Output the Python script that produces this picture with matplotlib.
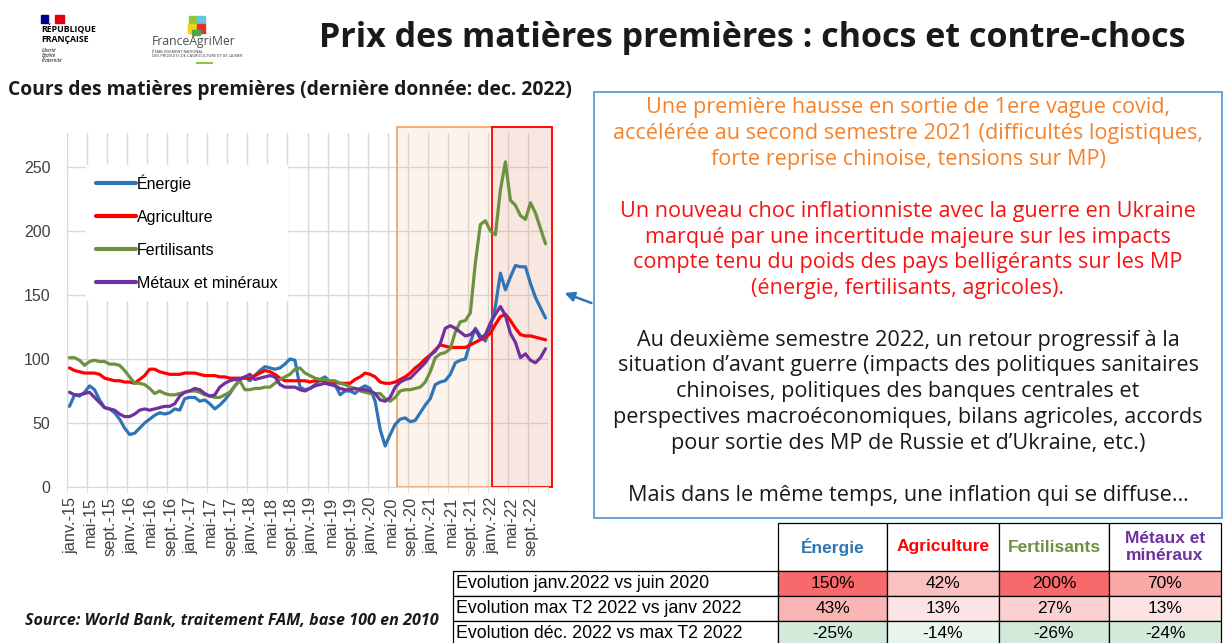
import numpy as np
import matplotlib.pyplot as plt
from matplotlib.patches import Rectangle
from matplotlib.lines import Line2D

W, H = 1225, 643

# monthly indices, base 100 in 2010, janv. 2015 -> dec. 2022
energie = [63, 72, 71, 74, 79, 76, 68, 62, 61, 58, 53, 46,
           41, 42, 46, 50, 53, 56, 58, 57, 58, 61, 60, 69,
           70, 70, 67, 68, 65, 61, 64, 68, 73, 79, 84, 86,
           83, 87, 91, 94, 93, 92, 93, 96, 100, 99, 78, 76,
           77, 80, 84, 86, 82, 80, 72, 75, 75, 73, 77, 79,
           77, 67, 45, 32, 41, 49, 53, 54, 51, 52, 58, 64,
           69, 80, 82, 83, 88, 97, 99, 100, 113, 124, 118, 114,
           126, 141, 167, 154, 164, 173, 172, 172, 159, 148, 140, 132]
agriculture = [93, 91, 90, 89, 89, 89, 88, 85, 84, 83, 83, 82,
               82, 81, 84, 87, 92, 92, 90, 89, 88, 88, 88, 89,
               89, 89, 88, 87, 87, 87, 86, 86, 85, 85, 85, 85,
               85, 87, 89, 91, 90, 88, 85, 83, 83, 83, 83, 83,
               82, 83, 83, 83, 82, 82, 81, 81, 81, 84, 86, 89,
               88, 86, 82, 81, 81, 82, 84, 86, 89, 93, 96, 100,
               103, 107, 111, 110, 109, 109, 109, 109, 111, 113, 115, 117,
               120, 127, 133, 135, 130, 124, 119, 118, 118, 117, 116, 115]
fertilisants = [101, 101, 99, 95, 98, 99, 98, 98, 96, 96, 95, 91,
                86, 81, 81, 80, 77, 73, 75, 73, 72, 72, 73, 74,
                75, 75, 74, 72, 71, 70, 70, 72, 74, 79, 83, 76,
                76, 77, 77, 78, 78, 81, 84, 86, 88, 92, 93, 89,
                87, 85, 84, 84, 83, 83, 81, 80, 78, 77, 75, 74,
                73, 73, 73, 69, 67, 70, 75, 76, 76, 77, 78, 82,
                90, 101, 104, 105, 108, 121, 129, 130, 136, 175, 205, 208,
                200, 197, 232, 254, 224, 220, 212, 209, 222, 214, 202, 190]
metaux = [74, 72, 72, 73, 74, 70, 66, 62, 61, 60, 57, 55,
          55, 57, 60, 61, 60, 61, 62, 63, 63, 65, 71, 74,
          75, 77, 76, 73, 71, 72, 78, 81, 83, 84, 84, 86,
          88, 84, 85, 86, 87, 86, 80, 78, 78, 78, 76, 75,
          77, 79, 80, 81, 80, 79, 77, 76, 76, 77, 76, 76,
          75, 73, 68, 67, 70, 78, 82, 84, 85, 89, 93, 97,
          103, 106, 112, 124, 126, 124, 121, 118, 119, 123, 116, 119,
          128, 135, 141, 134, 120, 113, 101, 104, 99, 97, 101, 108]

series_names = ['Énergie', 'Agriculture', 'Fertilisants', 'Métaux et minéraux']
series_colors = ['#2E75B6', '#FF0000', '#6E9140', '#7030A0']

tick_labels = ['janv.-15', 'mai-15', 'sept.-15', 'janv.-16', 'mai-16', 'sept.-16',
               'janv.-17', 'mai-17', 'sept.-17', 'janv.-18', 'mai-18', 'sept.-18',
               'janv.-19', 'mai-19', 'sept.-19', 'janv.-20', 'mai-20', 'sept.-20',
               'janv.-21', 'mai-21', 'sept.-21', 'janv.-22', 'mai-22', 'sept.-22']

table_rows = ['Evolution janv.2022 vs juin 2020',
              'Evolution max T2 2022 vs janv 2022',
              'Evolution déc. 2022 vs max T2 2022']
table_cols = ['Énergie', 'Agriculture', 'Fertilisants', 'Métaux et\nminéraux']
table_vals = [['150%', '42%', '200%', '70%'],
              ['43%', '13%', '27%', '13%'],
              ['-25%', '-14%', '-26%', '-24%']]
table_fill = [['#F8696B', '#FAC1C1', '#F8696B', '#F9A8A8'],
              ['#F9B4B4', '#FDE4E4', '#FBD0D0', '#FDE4E4'],
              ['#D2EAD9', '#E8F4EC', '#D0E9D8', '#D4EBDB']]

box_lines = [
    ('Une première hausse en sortie de 1ere vague covid,', '#F5822A'),
    ('accélérée au second semestre 2021 (difficultés logistiques,', '#F5822A'),
    ('forte reprise chinoise, tensions sur MP)', '#F5822A'),
    (None, None),
    ('Un nouveau choc inflationniste avec la guerre en Ukraine', '#F51414'),
    ('marqué par une incertitude majeure sur les impacts', '#F51414'),
    ('compte tenu du poids des pays belligérants sur les MP', '#F51414'),
    ('(énergie, fertilisants, agricoles).', '#F51414'),
    (None, None),
    ('Au deuxième semestre 2022, un retour progressif à la', '#1A1A1A'),
    ('situation d\u2019avant guerre (impacts des politiques sanitaires', '#1A1A1A'),
    ('chinoises, politiques des banques centrales et', '#1A1A1A'),
    ('perspectives macroéconomiques, bilans agricoles, accords', '#1A1A1A'),
    ('pour sortie des MP de Russie et d\u2019Ukraine, etc.)', '#1A1A1A'),
    (None, None),
    ('Mais dans le même temps, une inflation qui se diffuse\u2026', '#1A1A1A'),
]


def fx(x):
    return x / W


def fy(y):
    return 1 - y / H


SLIDE = 'Open Sans'
ARIAL = 'Liberation Sans'

fig = plt.figure(figsize=(W / 100, H / 100), dpi=100)

# ---- chart ----
ax = fig.add_axes([fx(67), fy(487), 481 / W, 354 / H])
x = np.arange(96) + 0.5
for vals, name, col in zip([energie, agriculture, fertilisants, metaux], series_names, series_colors):
    ax.plot(x, vals, color=col, lw=2.3, label=name, zorder=3, solid_capstyle='round')

ax.set_xlim(0, 96)
ax.set_ylim(0, 276.5)
ax.set_axisbelow(True)
ax.set_yticks([0, 50, 100, 150, 200, 250])
ax.set_xticks(np.arange(0, 96, 4) + 0.7)
ax.set_xticklabels(tick_labels, rotation=90, fontsize=11.8, family=ARIAL, color='#404040')
ax.set_xticks(np.arange(0, 97, 4), minor=True)
ax.tick_params(axis='x', which='major', length=0, pad=7)
ax.tick_params(axis='x', which='minor', length=4, color='#D9D9D9')
ax.tick_params(axis='y', length=0, pad=12, labelsize=11.5, labelcolor='#404040')
for lab in ax.get_yticklabels():
    lab.set_family(ARIAL)
ax.grid(which='minor', axis='x', color='#D9D9D9', lw=1)
ax.grid(which='major', axis='y', color='#D9D9D9', lw=1)
for s in ['top', 'right']:
    ax.spines[s].set_visible(False)
ax.spines['left'].set_color('#D9D9D9')
ax.spines['bottom'].set_color('#D9D9D9')

# highlighted periods
ax.add_patch(Rectangle((65.8, 0), 96.8 - 65.8, 281, clip_on=False, zorder=1,
                       fc=(0.957, 0.694, 0.514, 0.14), ec='#F0A060', lw=1.2))
ax.add_patch(Rectangle((84.9, 0), 96.8 - 84.9, 281, clip_on=False, zorder=1.1,
                       fc=(0.75, 0.35, 0.3, 0.08), ec='#FF0000', lw=1.3))

leg = ax.legend(loc='upper left', bbox_to_anchor=(fx(86), fy(165)), bbox_transform=fig.transFigure,
                frameon=True, fancybox=False, edgecolor='white', facecolor='white', framealpha=1,
                prop={'family': ARIAL, 'size': 11.5}, handlelength=2.5, handletextpad=0.1,
                labelspacing=1.12, borderpad=0.6, borderaxespad=0)
for ln in leg.get_lines():
    ln.set_linewidth(3)

# ---- titles ----
fig.text(fx(752), fy(38), 'Prix des matières premières : chocs et contre-chocs', ha='center', va='center',
         fontsize=24.5, fontweight='bold', family=SLIDE, color='#1A1A1A')
fig.text(fx(8), fy(90), 'Cours des matières premières (dernière donnée: dec. 2022)', ha='left', va='center',
         fontsize=13.9, fontweight='bold', family=SLIDE, color='#1A1A1A')
fig.text(fx(25), fy(621), 'Source: World Bank, traitement FAM, base 100 en 2010', ha='left', va='center',
         fontsize=11.6, fontweight='bold', style='italic', family=SLIDE, color='#1A1A1A')

# ---- logos ----
fig.add_artist(Rectangle((fx(41), fy(23)), 7 / W, 8 / H, transform=fig.transFigure, color='#000091'))
fig.add_artist(Rectangle((fx(55), fy(23)), 9 / W, 8 / H, transform=fig.transFigure, color='#E1000F'))
fig.text(fx(41), fy(30), 'RÉPUBLIQUE', fontsize=6.3, fontweight='bold', family=SLIDE, va='center')
fig.text(fx(41), fy(39), 'FRANÇAISE', fontsize=6.3, fontweight='bold', family=SLIDE, va='center')
for yy, t in zip([50, 55.5, 61], ['Liberté', 'Égalité', 'Fraternité']):
    fig.text(fx(42), fy(yy), t, fontsize=3.4, style='italic', family=SLIDE, va='center')

icon = [(189, 16, 8, 8, '#8DC63F'), (197, 16, 8, 8, '#66C6E8'), (188, 24, 9, 9, '#F7D117'),
        (197, 24, 8, 9, '#E4312F'), (192, 30, 8, 5, '#4CA64C')]
for ix, iy, iw, ih, ic in icon:
    fig.add_artist(Rectangle((fx(ix), fy(iy + ih)), iw / W, ih / H, transform=fig.transFigure, color=ic))
fig.text(fx(152), fy(42), 'FranceAgriMer', fontsize=8.8, family=SLIDE, color='#4D4D4D', va='center')
fig.text(fx(152), fy(52), 'ÉTABLISSEMENT NATIONAL', fontsize=2.9, family=SLIDE, color='#333333', va='center')
fig.text(fx(152), fy(56), 'DES PRODUITS DE L\u2019AGRICULTURE ET DE LA MER', fontsize=2.9, family=SLIDE,
         color='#333333', va='center')
fig.add_artist(Line2D([fx(197), fx(212)], [fy(63), fy(63)], transform=fig.transFigure, color='#8DC63F', lw=1.5))

# ---- text box ----
fig.add_artist(Rectangle((fx(594), fy(518)), (1222 - 594) / W, (518 - 92) / H, transform=fig.transFigure,
                         fill=False, ec='#5B9BD5', lw=1.3))
y0, step = 108, 25.8
for i, (t, c) in enumerate(box_lines):
    if t is None:
        continue
    fig.text(fx(908), fy(y0 + i * step), t, ha='center', va='center', fontsize=15.6, family=SLIDE, color=c)
fig.add_artist(plt.Annotation('', xy=(fx(562), fy(292)), xytext=(fx(594), fy(304)),
                              xycoords='figure fraction', textcoords='figure fraction',
                              arrowprops=dict(arrowstyle='-|>', color='#2E75B6', lw=1.8, mutation_scale=14)))

# ---- table ----
col_edges = [778, 887, 999, 1109, 1221]
row_edges = [571, 596, 621, 646]
hdr_top = 523
for j, name in enumerate(table_cols):
    x0, x1 = col_edges[j], col_edges[j + 1]
    fig.add_artist(Rectangle((fx(x0), fy(571)), (x1 - x0) / W, (571 - hdr_top) / H,
                             transform=fig.transFigure, fc='white', ec='black', lw=0.9))
    fig.text(fx((x0 + x1) / 2), fy((hdr_top + 571) / 2), name, ha='center', va='center', fontsize=12.5,
             fontweight='bold', family=ARIAL, color=series_colors[j], linespacing=1.2)
for i, rname in enumerate(table_rows):
    ya, yb = row_edges[i], row_edges[i + 1]
    fig.add_artist(Rectangle((fx(453), fy(yb)), (778 - 453) / W, (yb - ya) / H,
                             transform=fig.transFigure, fc='white', ec='black', lw=0.9))
    fig.text(fx(456), fy((ya + yb) / 2), rname, ha='left', va='center', fontsize=12.8, family=ARIAL,
             color='black')
    for j in range(4):
        x0, x1 = col_edges[j], col_edges[j + 1]
        fig.add_artist(Rectangle((fx(x0), fy(yb)), (x1 - x0) / W, (yb - ya) / H,
                                 transform=fig.transFigure, fc=table_fill[i][j], ec='black', lw=0.9))
        fig.text(fx((x0 + x1) / 2), fy((ya + yb) / 2), table_vals[i][j], ha='center', va='center',
                 fontsize=12.5, family=ARIAL, color='black')

fig.savefig('out.png', dpi=100)
